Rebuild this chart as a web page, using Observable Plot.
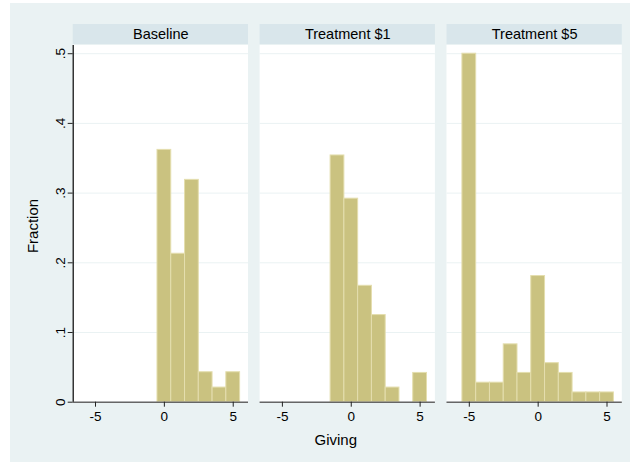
<!DOCTYPE html>
<html><head><meta charset="utf-8">
<script src="https://cdn.jsdelivr.net/npm/d3@7"></script>
<script src="https://cdn.jsdelivr.net/npm/@observablehq/plot@0.6"></script>
<style>
body{margin:0;background:#fff;}
#wrap{position:relative;width:630px;height:462px;overflow:hidden;}
#bg{position:absolute;left:10px;top:3px;right:0;bottom:0;background:#eaf2f3;}
#chart{position:absolute;left:0;top:0;}
</style></head><body>
<div id="wrap"><div id="bg"></div><div id="chart"></div></div>
<script>
// ---- data ----
const panels = ["Baseline", "Treatment $1", "Treatment $5"];
const givingBaseline = [0, 1, 2, 3, 4, 5];
const fracBaseline   = [0.362, 0.213, 0.319, 0.043, 0.021, 0.043];
const givingT1 = [-1, 0, 1, 2, 3, 5];
const fracT1   = [0.354, 0.292, 0.167, 0.125, 0.021, 0.042];
const givingT5 = [-5, -4, -3, -2, -1, 0, 1, 2, 3, 4, 5];
const fracT5   = [0.5, 0.028, 0.028, 0.083, 0.042, 0.181, 0.056, 0.042, 0.014, 0.014, 0.014];
const xTicks = [-5, 0, 5];
const xTickLabels = ["-5", "0", "5"];
const yTicks = [0, 0.1, 0.2, 0.3, 0.4, 0.5];
const yTickLabels = ["0", ".1", ".2", ".3", ".4", ".5"];
const xTitle = "Giving";
const yTitle = "Fraction";
const binWidth = 1;

const series = [[givingBaseline, fracBaseline], [givingT1, fracT1], [givingT5, fracT5]];
const rows = panels.flatMap((p, i) => series[i][0].map((g, j) => ({panel: p, giving: g, frac: series[i][1][j]})));

// ---- layout (scale extents) ----
const xDomain = [-6.62, 6.11];
const plotTop = 0.5118, stripBottom = 0.5132, stripTop = 0.5419;

const chart = Plot.plot({
  width: 630, height: 462,
  marginLeft: 72.7, marginRight: 8.2, marginTop: 24, marginBottom: 60.3,
  style: {background: "transparent", fontFamily: "'Liberation Sans', Arial, sans-serif", fontSize: "13.5px", color: "#000"},
  x: {domain: xDomain, axis: null},
  y: {domain: [0, stripTop], axis: null},
  fx: {domain: panels, axis: null, paddingInner: 0.062, paddingOuter: 0, round: false},
  marks: [
    Plot.rect([0], {y1: 0, y2: plotTop, fill: "white"}),
    Plot.rect([0], {y1: stripBottom, y2: stripTop, fill: "#d9e6eb"}),
    Plot.ruleY(yTicks.slice(1), {stroke: "#eaf2f3", strokeWidth: 1}),
    Plot.rectY(rows, {fx: "panel", x1: d => d.giving - binWidth / 2, x2: d => d.giving + binWidth / 2, y1: 0, y2: "frac",
      fill: "#cac280", stroke: "#e4deae", strokeWidth: 1}),
    Plot.ruleY([0], {stroke: "#666", strokeWidth: 1.5}),
    Plot.ruleX([panels[0]], {fx: d => d, x: xDomain[0], y1: 0, y2: plotTop, stroke: "#000", strokeWidth: 1.2}),
    Plot.axisX({ticks: xTicks, tickFormat: (d, i) => xTickLabels[i], tickSize: 5, tickPadding: 4, label: null, fontSize: 13.5, stroke: "#222"}),
    Plot.axisY({ticks: yTicks, tickFormat: (d, i) => yTickLabels[i], tickSize: 5, tickPadding: 3, tickRotate: -90, label: null, fontSize: 13.5, stroke: "#222"}),
    Plot.text(panels, {fx: d => d, text: d => d, frameAnchor: "top", dy: 10, lineAnchor: "middle", textAnchor: "middle", fontSize: 14.5}),
    Plot.text([xTitle], {facet: "super", frameAnchor: "bottom", dy: 38, dx: -12, lineAnchor: "middle", textAnchor: "middle", fontSize: 15}),
    Plot.text([yTitle], {facet: "super", frameAnchor: "left", rotate: -90, dx: -40, dy: 12.6, lineAnchor: "middle", textAnchor: "middle", fontSize: 15})
  ]
});
document.getElementById("chart").appendChild(chart);
</script>
</body></html>
